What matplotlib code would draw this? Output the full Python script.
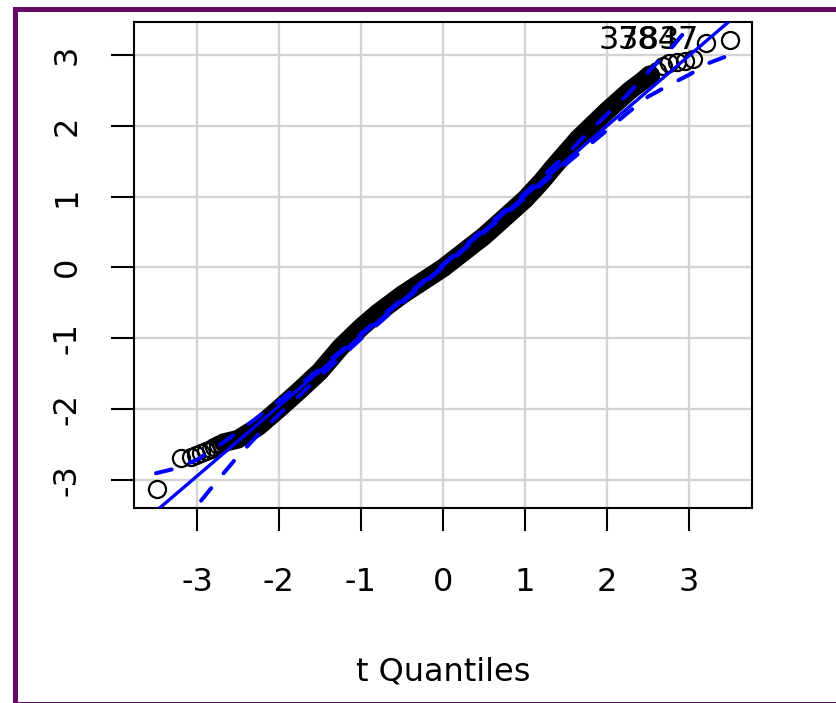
from matplotlib.backends.backend_agg import FigureCanvasAgg as FigureCanvas
from matplotlib.figure import Figure
import matplotlib.patches as patches

# tails: single circles
low_tail_x = [-3.49, -3.19, -3.07, -3.01, -2.95, -2.89, -2.83, -2.79, -2.74, -2.71]
low_tail_y = [-3.13, -2.70, -2.68, -2.65, -2.62, -2.60, -2.57, -2.54, -2.51, -2.50]
high_tail_x = [2.52, 2.61, 2.68, 2.76, 2.85, 2.95, 3.05, 3.21, 3.50]
high_tail_y = [2.72, 2.78, 2.85, 2.88, 2.90, 2.92, 2.94, 3.17, 3.21]

# middle part, where the circles run together into one black band
band_x = [-2.68, -2.50, -2.25, -2.00, -1.75, -1.50, -1.25, -1.00, -0.80, -0.50,
          0.00, 0.50, 1.00, 1.20, 1.35, 1.65, 2.00, 2.28, 2.44, 2.52]
band_y = [-2.48, -2.43, -2.25, -2.00, -1.74, -1.47, -1.13, -0.85, -0.65, -0.39,
          -0.01, 0.44, 0.96, 1.21, 1.42, 1.82, 2.21, 2.50, 2.64, 2.72]

# robust reference line and its 95% envelope
line_int = 0.02
line_slope = 0.99
env_x = [-3.5, -3.25, -3.0, -2.75, -2.5, -2.25, -2.0, -1.5, -1.0, 0.0,
         1.0, 1.5, 1.9, 2.25, 2.5, 2.75, 3.0, 3.25, 3.5]
env_upper = [-2.91, -2.84, -2.72, -2.53, -2.33, -2.11, -1.89, -1.43, -0.94, 0.04,
             1.05, 1.59, 2.05, 2.44, 2.76, 3.05, 3.40, 3.74, 4.09]
env_lower = [-4.07, -3.72, -3.37, -3.01, -2.67, -2.36, -2.08, -1.54, -1.01, 0.00,
             0.98, 1.46, 1.84, 2.18, 2.41, 2.57, 2.72, 2.89, 3.00]

id_labels = ['3783', '3847']
id_x = [2.89, 3.12]
id_y = [3.21, 3.21]

ticks = [-3, -2, -1, 0, 1, 2, 3]
x_label = 't Quantiles'

W, H = 836, 703
fig = Figure(figsize=(W / 100.0, H / 100.0), dpi=100)
FigureCanvas(fig)
fs = 23
font = ['DejaVu Sans']

ax = fig.add_axes([133.6 / W, 1 - 508.2 / H, (752 - 133.6) / W, (508.2 - 22) / H])
ax.set_xlim(-3.773, 3.768)
ax.set_ylim(-3.404, 3.466)

ax.set_xticks(ticks)
ax.set_yticks(ticks)
ax.set_xticklabels([str(t) for t in ticks], fontsize=fs, family=font)
ax.set_yticklabels([str(t) for t in ticks], fontsize=fs, family=font, rotation=90, va='center')
ax.tick_params(axis='both', direction='out', length=16.5, width=1.5, color='black')
ax.tick_params(axis='x', pad=25.5)
ax.tick_params(axis='y', pad=20)
for s in ax.spines.values():
    s.set_linewidth(1.5)
    s.set_color('black')

ax.grid(True, color='#d3d3d3', lw=1.65)
ax.set_axisbelow(True)

mk = dict(ls='none', marker='o', ms=12.3, mfc='none', mec='black', mew=1.6, zorder=3)
ax.plot(low_tail_x, low_tail_y, **mk)
ax.plot(high_tail_x, high_tail_y, **mk)
ax.plot(band_x, band_y, color='black', lw=13.5, solid_capstyle='round',
        solid_joinstyle='round', zorder=3)

for i in range(len(id_labels)):
    ax.text(id_x[i], id_y[i], id_labels[i], fontsize=fs, family=font,
            ha='right', va='center', zorder=4)

lx = [-4.0, 4.0]
ax.plot(lx, [line_int + line_slope * v for v in lx], color='blue', lw=2.4, zorder=5)
ax.plot(env_x, env_upper, color='blue', lw=2.9, ls=(0, (4, 4.8)),
        dash_capstyle='round', zorder=5)
ax.plot(env_x, env_lower, color='blue', lw=2.9, ls=(0, (4, 4.8)),
        dash_capstyle='round', zorder=5)

fig.text(442.8 / W, 1 - 681.0 / H, x_label, fontsize=fs, family=font,
         ha='center', va='baseline')

# purple frame, its right side falls outside the picture
frame = patches.Rectangle((14.5 / W, -1.0 / H), 1.2, 1 - 8.5 / H + 1.0 / H,
                          transform=fig.transFigure, fill=False,
                          edgecolor='#660a66', lw=3.6)
fig.patches.append(frame)

fig.savefig('out.png', dpi=100)
